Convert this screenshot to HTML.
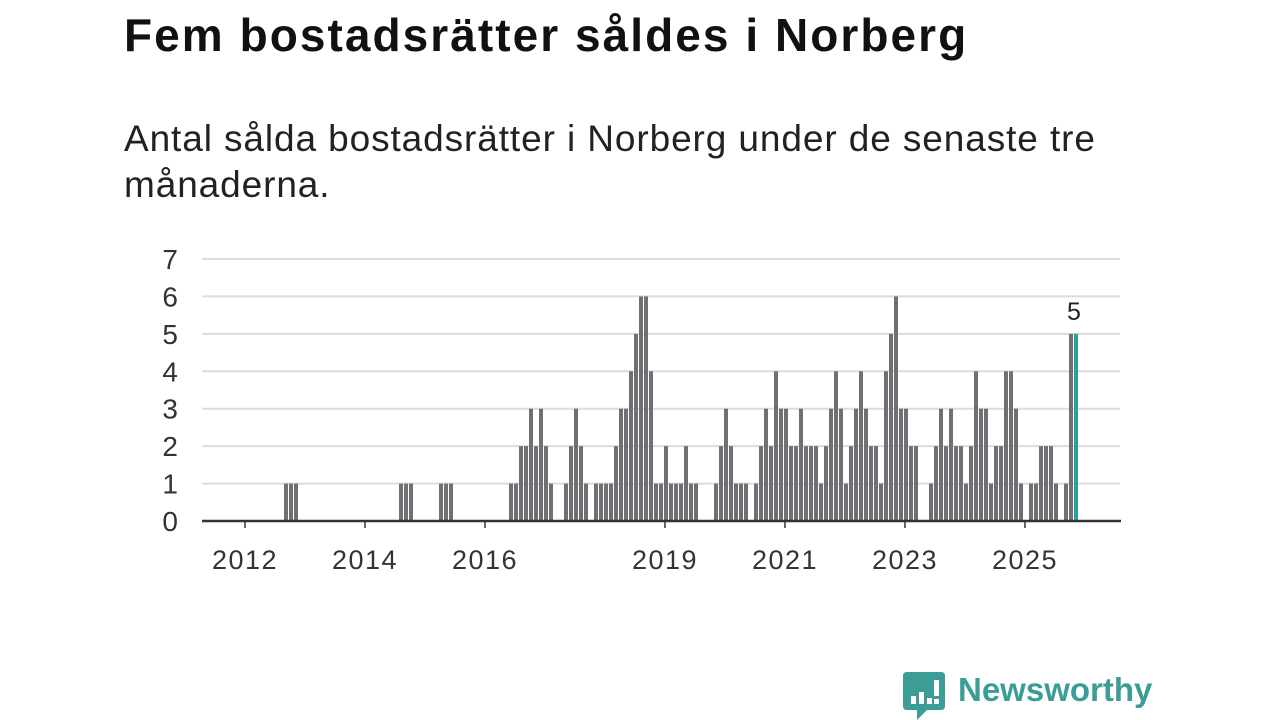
<!DOCTYPE html>
<html><head><meta charset="utf-8">
<style>
body{margin:0;width:1280px;height:720px;background:#fff;overflow:hidden;font-family:"Liberation Sans",sans-serif;}
#title{position:absolute;left:124px;top:8px;font-size:46px;font-weight:bold;color:#111;margin:0;letter-spacing:2.05px}
#sub{position:absolute;left:124px;top:116px;font-size:37px;line-height:46px;color:#222;width:1010px;margin:0;letter-spacing:0.9px}
svg{position:absolute;left:0;top:0}
#logo{position:absolute;left:903px;top:672px}
#logotext{position:absolute;left:958px;top:671px;font-size:33px;font-weight:bold;color:#3c9c96}
</style></head><body>
<h1 id="title">Fem bostadsrätter såldes i Norberg</h1>
<p id="sub">Antal sålda bostadsrätter i Norberg under de senaste tre månaderna.</p>
<svg id="chart" width="1280" height="720"></svg>
<svg id="logo" width="42" height="48" viewBox="0 0 42 48">
<path d="M4 0H38Q42 0 42 4V34Q42 38 38 38H24L14 48V38H4Q0 38 0 34V4Q0 0 4 0Z" fill="#3c9c96"/>
<rect x="8" y="24" width="5" height="8" fill="#fff"/><rect x="16" y="20" width="5" height="12" fill="#fff"/><rect x="24" y="26" width="5" height="6" fill="#fff"/><rect x="31" y="8" width="5" height="16" fill="#fff"/><rect x="31" y="27" width="5" height="5" fill="#fff"/>
</svg>
<div id="logotext">Newsworthy</div>
<script>
const startYear = 2012;
const values = [0,0,0,0,0,0,0,1,1,1,0,0,0,0,0,0,0,0,0,0,0,0,0,0,0,0,0,0,0,0,1,1,1,0,0,0,0,0,1,1,1,0,0,0,0,0,0,0,0,0,0,0,
1,1,2,2,3,2,3,2,1,0,0,1,2,3,2,1,0,1,1,1,1,2,3,3,4,5,6,6,4,1,1,2,1,1,1,2,1,1,
0,0,0,
1,2,3,2,1,1,1,0,1,2,3,2,4,3,3,2,2,3,2,2,2,1,2,3,4,3,1,2,3,4,3,2,2,1,4,5,6,3,3,2,2,
0,0,
1,2,3,2,3,2,2,1,2,4,3,3,1,2,2,4,4,3,1,0,1,1,2,2,2,1,0,1,5,5];
const yTicks = [0,1,2,3,4,5,6,7];
const xTickYears = [2012,2014,2016,2019,2021,2023,2025];
const NS="http://www.w3.org/2000/svg";
const svg=document.getElementById('chart');
const X0=245, PX_YEAR=60, Y0=521, PX_UNIT=(521-259)/7;
function xs(t){return X0+(t-startYear)*PX_YEAR;}
function ys(v){return Y0-v*PX_UNIT;}
function mk(tag,attrs,parent){const e=document.createElementNS(NS,tag);for(const k in attrs)e.setAttribute(k,attrs[k]);(parent||svg).appendChild(e);return e;}
yTicks.forEach(v=>{
  if(v>0){const g=mk('line',{x1:202,x2:1120,y1:ys(v),y2:ys(v),stroke:'#dcdcdc','stroke-width':2});
  
  }
  const t=mk('text',{x:178,y:ys(v)+10,'text-anchor':'end','font-size':28,fill:'#333','font-family':'Liberation Sans, sans-serif'});
  t.textContent=v;
  
  
});
values.forEach((v,m)=>{
  if(v<=0)return;
  const last=m===values.length-1;
  const r=mk('rect',{x:xs(startYear+m/12)+4,y:ys(v),width:4,height:v*PX_UNIT,fill:last?'#2aa198':'#707074'});
  
  
  if(last){const l=mk('text',{x:xs(startYear+m/12)+4,y:ys(v)-14,'text-anchor':'middle','font-size':25,fill:'#222','font-family':'Liberation Sans, sans-serif'});
  l.textContent=v;
  
  }
});
const ax=mk('line',{x1:202,x2:1121,y1:Y0,y2:Y0,stroke:'#333','stroke-width':2.5});


xTickYears.forEach(yr=>{
  const x=xs(yr);
  const tk=mk('line',{x1:x,x2:x,y1:Y0,y2:Y0+7,stroke:'#333','stroke-width':1.5});
  
  
  const t=mk('text',{x:x,y:569,'text-anchor':'middle','font-size':27,'letter-spacing':1.5,fill:'#333','font-family':'Liberation Sans, sans-serif'});
  t.textContent=yr;
  
  
});
</script>
</body></html>
